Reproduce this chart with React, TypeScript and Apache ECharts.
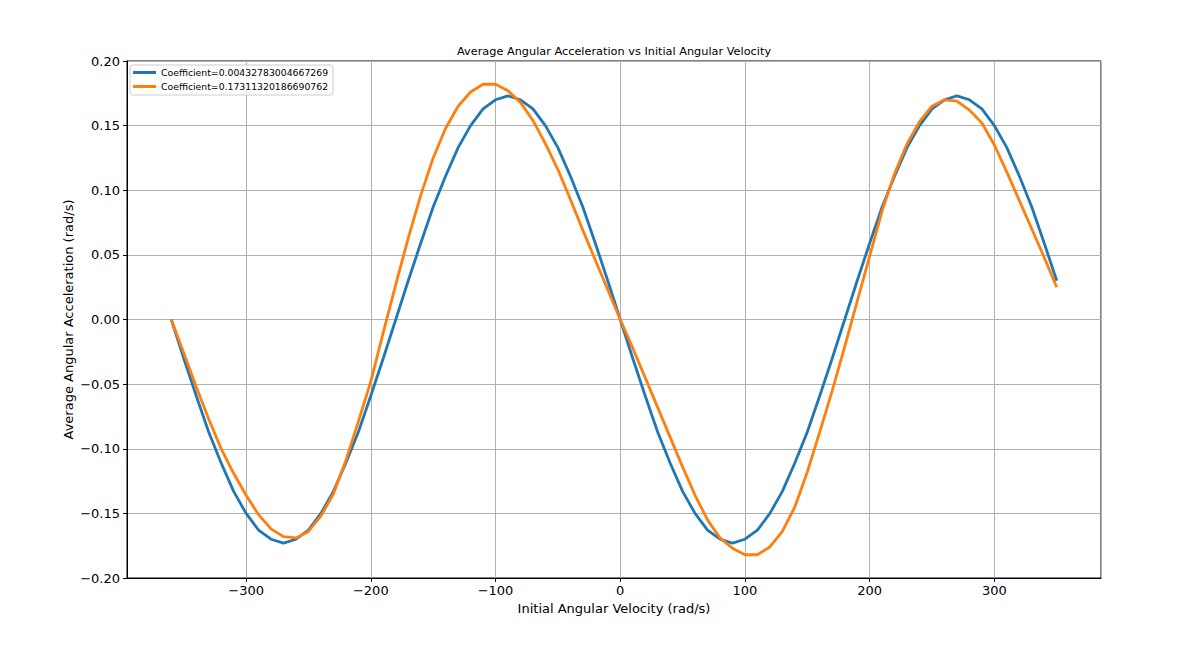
import React, { useEffect, useRef } from "react";
import * as echarts from "echarts";

const velocities = [
  -360, -350, -340, -330, -320, -310, -300, -290, -280, -270, -260, -250,
  -240, -230, -220, -210, -200, -190, -180, -170, -160, -150, -140, -130,
  -120, -110, -100, -90, -80, -70, -60, -50, -40, -30, -20, -10, 0, 10, 20,
  30, 40, 50, 60, 70, 80, 90, 100, 110, 120, 130, 140, 150, 160, 170, 180,
  190, 200, 210, 220, 230, 240, 250, 260, 270, 280, 290, 300, 310, 320, 330,
  340, 350,
];

const blueValues = [
  0.0, -0.03, -0.059, -0.087, -0.111, -0.133, -0.15, -0.163, -0.17, -0.173,
  -0.17, -0.163, -0.15, -0.133, -0.111, -0.087, -0.059, -0.03, 0.0, 0.03,
  0.059, 0.087, 0.111, 0.133, 0.15, 0.163, 0.17, 0.173, 0.17, 0.163, 0.15,
  0.133, 0.111, 0.087, 0.059, 0.03, 0.0, -0.03, -0.059, -0.087, -0.111,
  -0.133, -0.15, -0.163, -0.17, -0.173, -0.17, -0.163, -0.15, -0.133, -0.111,
  -0.087, -0.059, -0.03, 0.0, 0.03, 0.059, 0.087, 0.111, 0.133, 0.15, 0.163,
  0.17, 0.173, 0.17, 0.163, 0.15, 0.133, 0.111, 0.087, 0.059, 0.03,
];

const orangeValues = [
  0.0, -0.026, -0.052, -0.077, -0.1, -0.119, -0.136, -0.151, -0.162, -0.168,
  -0.169, -0.164, -0.152, -0.135, -0.109, -0.079, -0.048, -0.01, 0.027, 0.063,
  0.096, 0.125, 0.148, 0.165, 0.176, 0.182, 0.182, 0.177, 0.168, 0.154, 0.136,
  0.116, 0.093, 0.069, 0.046, 0.023, 0.0, -0.022, -0.045, -0.068, -0.091,
  -0.114, -0.136, -0.155, -0.169, -0.177, -0.182, -0.182, -0.176, -0.164,
  -0.145, -0.118, -0.087, -0.055, -0.021, 0.014, 0.049, 0.084, 0.113, 0.136,
  0.153, 0.165, 0.17, 0.169, 0.162, 0.152, 0.135, 0.114, 0.092, 0.07, 0.048,
  0.025,
];

const seriesNames = [
  "Coefficient=0.00432783004667269",
  "Coefficient=0.17311320186690762",
];
const seriesColors = ["#1f77b4", "#ff7f0e"];

const titleText = "Average Angular Acceleration vs Initial Angular Velocity";
const xAxisTitle = "Initial Angular Velocity (rad/s)";
const yAxisTitle = "Average Angular Acceleration (rad/s)";

const FONT = "DejaVu Sans";

const minus = (s: string) => s.replace("-", "\u2212");

export default function App() {
  const ref = useRef<HTMLDivElement>(null);

  useEffect(() => {
    if (!ref.current) return;
    const chart = echarts.init(ref.current, undefined, { renderer: "svg" });

    const gridLeft = 127;
    const gridTop = 61;
    const gridRight = 1101;
    const gridBottom = 578;

    const makeSeries = (values: number[], i: number) => ({
      name: seriesNames[i],
      type: "line",
      data: velocities.map((v, k) => [v, values[k]]),
      showSymbol: false,
      symbol: "none",
      lineStyle: { color: seriesColors[i], width: 2.8 },
      itemStyle: { color: seriesColors[i] },
      z: 3 + i,
    });

    chart.setOption({
      animation: false,
      backgroundColor: "#ffffff",
      textStyle: { fontFamily: FONT },
      grid: {
        left: gridLeft,
        top: gridTop,
        width: gridRight - gridLeft,
        height: gridBottom - gridTop,
        show: true,
        borderColor: "#000000",
        borderWidth: 1,
        backgroundColor: "transparent",
        containLabel: false,
      },
      graphic: [
        {
          type: "text",
          x: (gridLeft + gridRight) / 2,
          y: 51,
          style: {
            text: titleText,
            fontFamily: FONT,
            fontSize: 11.3,
            fill: "#000000",
            textAlign: "center",
            textVerticalAlign: "middle",
          },
        },
      ],
      legend: {
        orient: "vertical",
        left: 130,
        top: 65,
        padding: [2, 5, 3, 3],
        itemGap: 3,
        itemWidth: 23,
        itemHeight: 3,
        icon: "rect",
        backgroundColor: "rgba(255,255,255,0.8)",
        borderColor: "#cccccc",
        borderWidth: 1,
        borderRadius: 3,
        textStyle: {
          fontFamily: FONT,
          fontSize: 9.3,
          color: "#000000",
          lineHeight: 11,
        },
        data: seriesNames,
      },
      xAxis: {
        type: "value",
        min: -395.5,
        max: 385.5,
        splitNumber: 8,
        name: xAxisTitle,
        nameLocation: "middle",
        nameGap: 24,
        nameTextStyle: { fontFamily: FONT, fontSize: 13, color: "#000000" },
        axisLine: { show: true, onZero: false, lineStyle: { color: "#000000", width: 1 } },
        axisTick: { show: true, inside: false, length: 4, lineStyle: { color: "#000000" } },
        axisLabel: {
          show: true,
          margin: 6,
          fontFamily: FONT,
          fontSize: 13,
          color: "#000000",
          showMinLabel: false,
          showMaxLabel: false,
          formatter: (v: number) =>
            Math.abs(v % 100) < 1e-6 ? minus(String(Math.round(v))) : "",
        },
        splitLine: { show: true, lineStyle: { color: "#b0b0b0", width: 1 } },
      },
      yAxis: {
        type: "value",
        min: -0.2,
        max: 0.2,
        interval: 0.05,
        name: yAxisTitle,
        nameLocation: "middle",
        nameRotate: 90,
        nameGap: 52,
        nameMoveOverlap: false,
        nameTextStyle: { fontFamily: FONT, fontSize: 13, color: "#000000" },
        axisLine: { show: true, onZero: false, lineStyle: { color: "#000000", width: 1 } },
        axisTick: { show: true, inside: false, length: 4, lineStyle: { color: "#000000" } },
        axisLabel: {
          show: true,
          margin: 7,
          fontFamily: FONT,
          fontSize: 13,
          color: "#000000",
          formatter: (v: number) => {
            const val = Math.abs(v) < 1e-9 ? 0 : v;
            return minus(val.toFixed(2));
          },
        },
        splitLine: { show: true, lineStyle: { color: "#b0b0b0", width: 1 } },
      },
      series: [makeSeries(blueValues, 0), makeSeries(orangeValues, 1)],
    });

    return () => {
      chart.dispose();
    };
  }, []);

  return (
    <div
      ref={ref}
      style={{ position: "fixed", left: 0, top: 0, width: 1196, height: 653 }}
    />
  );
}
